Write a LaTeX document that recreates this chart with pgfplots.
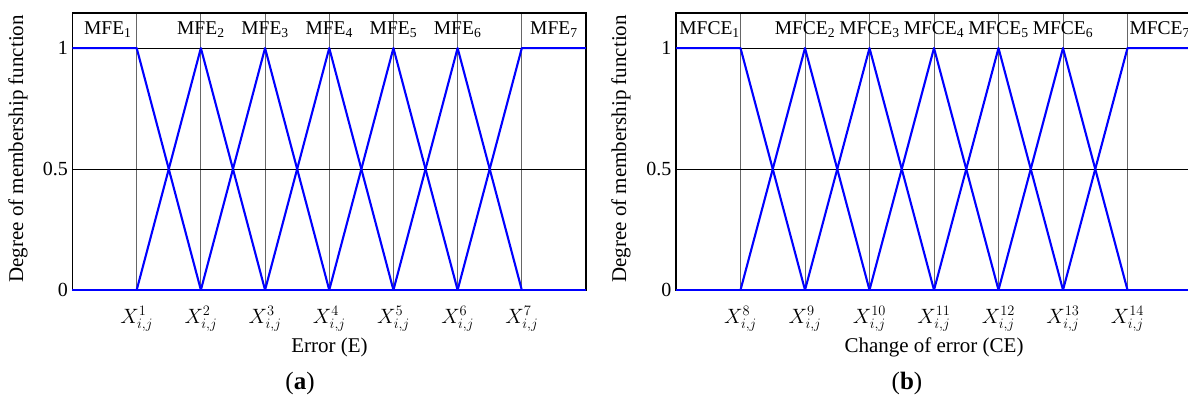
\documentclass[border=0pt]{standalone}
\usepackage{fontspec}
\setmainfont{Liberation Serif}
\usepackage{pgfplots}
\pgfplotsset{compat=1.18}
\usepackage{pgfplotstable}

\definecolor{mfblue}{RGB}{0,0,255}

% Breakpoints of the seven membership functions (same layout for E and CE)
\pgfplotstableread{
x y
0 1
1 1
2 0
}\mfone
\pgfplotstableread{
x y
1 0
2 1
3 0
}\mftwo
\pgfplotstableread{
x y
2 0
3 1
4 0
}\mfthree
\pgfplotstableread{
x y
3 0
4 1
5 0
}\mffour
\pgfplotstableread{
x y
4 0
5 1
6 0
}\mffive
\pgfplotstableread{
x y
5 0
6 1
7 0
}\mfsix
\pgfplotstableread{
x y
6 0
7 1
8 1
}\mfseven
\pgfplotstableread{
x y
0 0
8 0
}\mfzero

\pgfplotsset{
  mfaxis/.style={
    anchor=south west,
    scale only axis,
    height=277pt,
    xmin=0, xmax=8, ymin=0, ymax=1.145,
    xtick={1,2,3,4,5,6,7},
    ytick={0,0.5,1},
    yticklabels={0,0.5,1},
    major tick length=0pt,
    axis line style={black, line width=1.3pt},
    xmajorgrids, ymajorgrids,
    x grid style={black!60, line width=0.8pt},
    y grid style={black, line width=0.8pt},
    yticklabel style={font=\fontsize{20}{22}\selectfont, xshift=-1pt},
    xticklabel style={font=\fontsize{20}{22}\selectfont, yshift=-13pt},
    clip=false,
  },
  mfline/.style={mfblue, line width=2.1pt, line join=round},
}

\begin{document}
\begin{tikzpicture}
% (a) error
\begin{axis}[mfaxis, at={(72.5pt,110pt)}, width=513.5pt,
  xticklabels={$X^{1}_{i,j}$,$X^{2}_{i,j}$,$X^{3}_{i,j}$,$X^{4}_{i,j}$,$X^{5}_{i,j}$,$X^{6}_{i,j}$,$X^{7}_{i,j}$}]
  \addplot[mfline] table {\mfone};
  \addplot[mfline] table {\mftwo};
  \addplot[mfline] table {\mfthree};
  \addplot[mfline] table {\mffour};
  \addplot[mfline] table {\mffive};
  \addplot[mfline] table {\mfsix};
  \addplot[mfline] table {\mfseven};
  \addplot[mfblue, line width=2.8pt] table {\mfzero};
  \foreach \k/\p in {1/0.55,2/2,3/3,4/4,5/5,6/6,7/7.5}{
    \edef\tmp{\noexpand\node[font=\noexpand\fontsize{19.5}{21}\noexpand\selectfont, inner sep=0pt]
      at (axis cs:\p,1.075) {MFE\noexpand\textsubscript{\k}};}
    \tmp
  }
\end{axis}
% (b) change of error
\begin{axis}[mfaxis, at={(676pt,110pt)}, width=516pt,
  xticklabels={$X^{8}_{i,j}$,$X^{9}_{i,j}$,$X^{10}_{i,j}$,$X^{11}_{i,j}$,$X^{12}_{i,j}$,$X^{13}_{i,j}$,$X^{14}_{i,j}$}]
  \addplot[mfline] table {\mfone};
  \addplot[mfline] table {\mftwo};
  \addplot[mfline] table {\mfthree};
  \addplot[mfline] table {\mffour};
  \addplot[mfline] table {\mffive};
  \addplot[mfline] table {\mfsix};
  \addplot[mfline] table {\mfseven};
  \addplot[mfblue, line width=2.8pt] table {\mfzero};
  \foreach \k/\p in {1/0.52,2/2,3/3,4/4,5/5,6/6,7/7.5}{
    \edef\tmp{\noexpand\node[font=\noexpand\fontsize{19.5}{21}\noexpand\selectfont, inner sep=0pt]
      at (axis cs:\p,1.075) {MFCE\noexpand\textsubscript{\k}};}
    \tmp
  }
\end{axis}

% axis titles and panel captions
\node[rotate=90, font=\fontsize{21}{23}\selectfont] at (18pt,251pt) {Degree of membership function};
\node[rotate=90, font=\fontsize{21}{23}\selectfont] at (621pt,251pt) {Degree of membership function};
\node[font=\fontsize{21}{23}\selectfont] at (329.5pt,53pt) {Error (E)};
\node[font=\fontsize{21}{23}\selectfont] at (934pt,53pt) {Change of error (CE)};
\node[font=\fontsize{25}{27}\selectfont] at (300pt,17pt) {(\textbf{a})};
\node[font=\fontsize{25}{27}\selectfont] at (907pt,17pt) {(\textbf{b})};

\pgfresetboundingbox
\path[use as bounding box] (0pt,0pt) rectangle (1188pt,400pt);
\end{tikzpicture}
\end{document}
